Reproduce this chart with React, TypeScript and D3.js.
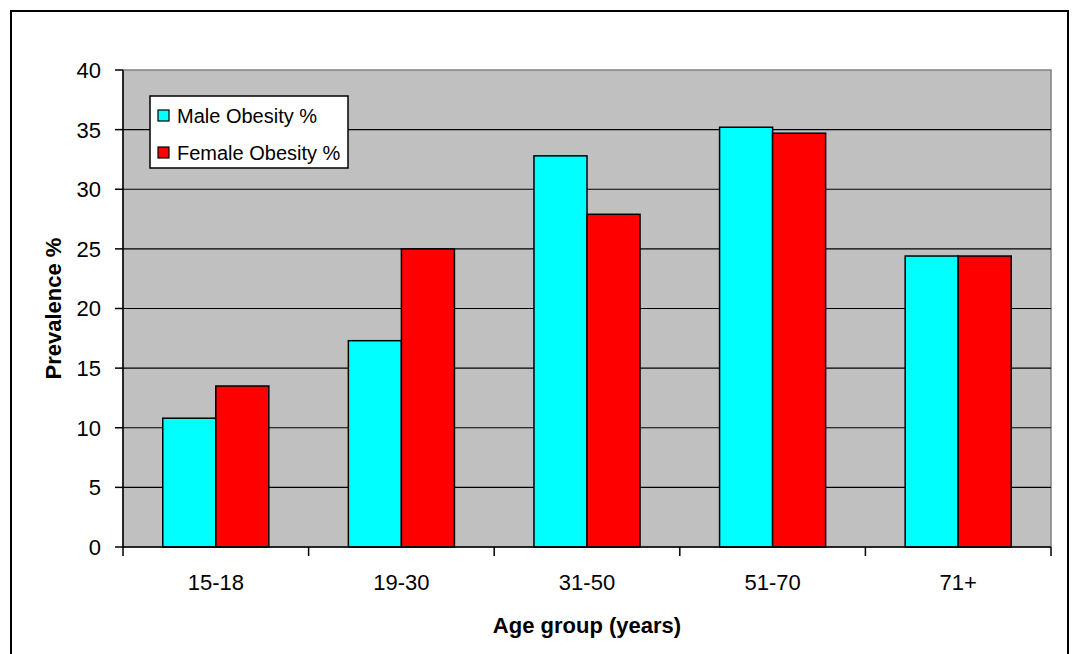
import React from "react";
import * as d3 from "d3";

const categories = ["15-18", "19-30", "31-50", "51-70", "71+"];
const seriesNames = ["Male Obesity %", "Female Obesity %"];
const maleValues = [10.8, 17.3, 32.8, 35.2, 24.4];
const femaleValues = [13.5, 25.0, 27.9, 34.7, 24.4];
const yTicks = [0, 5, 10, 15, 20, 25, 30, 35, 40];
const colors = ["#00FFFF", "#FF0000"];

export default function App() {
  const W = 1080, H = 654;
  const left = 123, right = 1051, top = 70, bottom = 547;
  const x = d3.scaleBand<string>().domain(categories).range([left, right]);
  const y = d3.scaleLinear().domain([0, 40]).range([bottom, top]);
  const bw = x.bandwidth() / 3.5;
  const series = [maleValues, femaleValues];
  const font = "'Liberation Sans', Arial, sans-serif";

  return (
    <svg width={W} height={H} style={{ position: "absolute", left: 0, top: 0 }} fontFamily={font}>
      <rect x={0} y={0} width={W} height={H} fill="#fff" />
      <rect x={11} y={11} width={1057} height={660} fill="none" stroke="#000" strokeWidth={2} />
      <rect x={left} y={top} width={right - left} height={bottom - top} fill="#C0C0C0" stroke="#808080" strokeWidth={1.5} />
      {yTicks.filter(t => t > 0 && t < 40).map(t => (
        <line key={"g" + t} x1={left} x2={right} y1={y(t)} y2={y(t)} stroke="#000" strokeWidth={1.2} />
      ))}
      {categories.map((c, i) =>
        series.map((vals, s) => {
          const bx = (x(c) as number) + x.bandwidth() / 2 - bw + s * bw;
          return (
            <rect key={c + s} x={bx} y={y(vals[i])} width={bw} height={bottom - y(vals[i])}
              fill={colors[s]} stroke="#000" strokeWidth={1.5} />
          );
        })
      )}
      <line x1={left} x2={left} y1={top} y2={bottom} stroke="#000" strokeWidth={1.5} />
      <line x1={left} x2={right} y1={bottom} y2={bottom} stroke="#000" strokeWidth={1.5} />
      {yTicks.map(t => (
        <g key={"t" + t}>
          <line x1={115} x2={left} y1={y(t)} y2={y(t)} stroke="#000" strokeWidth={1.5} />
          <text x={101} y={y(t)} dy="0.36em" textAnchor="end" fontSize={22} fill="#000">{t}</text>
        </g>
      ))}
      {[...categories.map(c => x(c) as number), right].map((v, i) => (
        <line key={"xt" + i} x1={v} x2={v} y1={bottom} y2={556} stroke="#000" strokeWidth={1.5} />
      ))}
      {categories.map(c => (
        <text key={"xl" + c} x={(x(c) as number) + x.bandwidth() / 2} y={590} textAnchor="middle" fontSize={22} fill="#000">{c}</text>
      ))}
      <text x={(left + right) / 2} y={633} textAnchor="middle" fontSize={22} fontWeight="bold" fill="#000">Age group (years)</text>
      <text transform={`translate(61, ${(top + bottom) / 2}) rotate(-90)`} textAnchor="middle" fontSize={22} fontWeight="bold" fill="#000">Prevalence %</text>
      <rect x={150} y={96} width={198} height={72} fill="#fff" stroke="#000" strokeWidth={1.5} />
      {seriesNames.map((n, i) => (
        <g key={n}>
          <rect x={158} y={110 + i * 37} width={11} height={11} fill={colors[i]} stroke="#000" strokeWidth={1.2} />
          <text x={177} y={123 + i * 37} fontSize={20} fill="#000">{n}</text>
        </g>
      ))}
    </svg>
  );
}
